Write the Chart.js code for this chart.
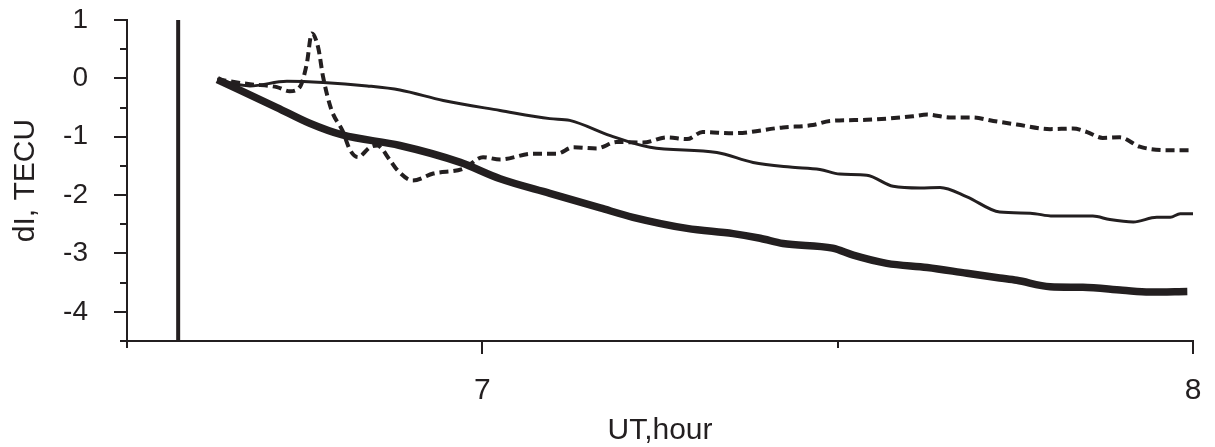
<!DOCTYPE html>
<html>
<head>
<meta charset="utf-8">
<title>dI, TECU</title>
<script src="https://cdn.jsdelivr.net/npm/chart.js@4.4.1/dist/chart.umd.min.js"></script>
<style>
  body { margin: 0; background: #fff; }
  #box { width: 1215px; height: 447px; }
</style>
</head>
<body>
<div id="box"><canvas id="myChart"></canvas></div>
<script>
'use strict'

// UT hours and dI values
const thickHours = [6.627, 6.711, 6.757, 6.803, 6.884, 6.969, 7.025, 7.095, 7.166, 7.212, 7.288, 7.353, 7.391, 7.423, 7.493, 7.522, 7.569, 7.626, 7.682, 7.728, 7.752, 7.799, 7.845, 7.901, 7.939, 7.992];
const thickValues = [-0.02, -0.50, -0.77, -0.97, -1.15, -1.44, -1.72, -1.97, -2.22, -2.38, -2.57, -2.66, -2.74, -2.83, -2.91, -3.03, -3.17, -3.24, -3.34, -3.42, -3.46, -3.57, -3.58, -3.63, -3.66, -3.65];

const thinHours = [6.627, 6.673, 6.725, 6.776, 6.838, 6.884, 6.945, 7.025, 7.095, 7.123, 7.180, 7.236, 7.330, 7.381, 7.433, 7.475, 7.503, 7.541, 7.578, 7.616, 7.644, 7.682, 7.728, 7.771, 7.803, 7.859, 7.883, 7.916, 7.949, 7.968, 7.982, 8.0];
const thinValues = [-0.02, -0.13, -0.05, -0.07, -0.13, -0.20, -0.38, -0.55, -0.69, -0.72, -0.98, -1.18, -1.27, -1.44, -1.52, -1.56, -1.64, -1.66, -1.85, -1.88, -1.87, -2.03, -2.29, -2.31, -2.36, -2.36, -2.42, -2.46, -2.38, -2.38, -2.32, -2.32];

const dashHours = [6.627, 6.673, 6.711, 6.729, 6.743, 6.753, 6.760, 6.769, 6.776, 6.788, 6.803, 6.814, 6.825, 6.842, 6.852, 6.870, 6.881, 6.902, 6.931, 6.973, 7.001, 7.025, 7.071, 7.105, 7.128, 7.161, 7.189, 7.226, 7.260, 7.288, 7.310, 7.353, 7.423, 7.465, 7.489, 7.541, 7.606, 7.626, 7.658, 7.690, 7.719, 7.752, 7.799, 7.831, 7.851, 7.873, 7.897, 7.925, 7.963, 8.0];
const dashValues = [-0.02, -0.10, -0.15, -0.22, -0.15, 0.25, 0.77, 0.53, 0.02, -0.55, -0.89, -1.23, -1.35, -1.18, -1.15, -1.40, -1.58, -1.75, -1.63, -1.55, -1.35, -1.39, -1.29, -1.29, -1.18, -1.20, -1.09, -1.10, -1.01, -1.04, -0.92, -0.94, -0.84, -0.80, -0.73, -0.71, -0.65, -0.62, -0.67, -0.67, -0.73, -0.79, -0.87, -0.86, -0.92, -1.02, -1.01, -1.17, -1.23, -1.23];

// vertical marker line
const markerHour = 6.572;

const xMin = 6.5, xMax = 8, xStep = 0.5;
const yMin = -4.5, yMax = 1, yStep = 0.5;

const ink = '#231f20';
const fontName = "'Liberation Sans', Arial, sans-serif";

function toPoints(hours, values) {
    let pts = [];
    for (let i = 0; i < hours.length; i++) {
        pts.push({ x: hours[i], y: values[i] });
    }
    return pts;
}

function isWhole(v) {
    return Math.abs(v - Math.round(v)) < 1e-6;
}

// short ticks on half steps, long ticks on whole numbers
const tickMarks = {
    id: 'tickMarks',
    afterDraw(chart) {
        const ctx = chart.ctx;
        const xs = chart.scales.x;
        const ys = chart.scales.y;
        ctx.save();
        ctx.strokeStyle = ink;
        ctx.lineWidth = 2;
        ctx.beginPath();
        for (let t of xs.ticks) {
            const px = Math.round(xs.getPixelForValue(t.value));
            ctx.moveTo(px, xs.top);
            ctx.lineTo(px, xs.top + (isWhole(t.value) ? 13 : 7));
        }
        for (let t of ys.ticks) {
            const py = Math.round(ys.getPixelForValue(t.value));
            ctx.moveTo(ys.right, py);
            ctx.lineTo(ys.right - (isWhole(t.value) ? 13 : 7), py);
        }
        ctx.stroke();
        ctx.restore();
    }
};

const ctx = document.getElementById('myChart').getContext('2d');

const myChart = new Chart(ctx, {
    type: 'line',
    data: {
        datasets: [
            {
                label: 'marker',
                data: [{ x: markerHour, y: yMin }, { x: markerHour, y: yMax }],
                borderColor: ink,
                borderWidth: 4,
                pointRadius: 0
            },
            {
                label: 'dashed',
                data: toPoints(dashHours, dashValues),
                borderColor: ink,
                borderWidth: 4,
                borderDash: [9, 5],
                pointRadius: 0,
                cubicInterpolationMode: 'monotone'
            },
            {
                label: 'thin',
                data: toPoints(thinHours, thinValues),
                borderColor: ink,
                borderWidth: 3,
                borderJoinStyle: 'round',
                pointRadius: 0,
                cubicInterpolationMode: 'monotone'
            },
            {
                label: 'thick',
                data: toPoints(thickHours, thickValues),
                borderColor: ink,
                borderWidth: 7.5,
                borderJoinStyle: 'round',
                pointRadius: 0,
                cubicInterpolationMode: 'monotone'
            }
        ]
    },
    options: {
        responsive: true,
        maintainAspectRatio: false,
        animation: false,
        layout: { padding: { left: 0, top: 20, right: 22, bottom: 0 } },
        plugins: {
            legend: { display: false },
            tooltip: { enabled: false }
        },
        scales: {
            x: {
                type: 'linear',
                min: xMin,
                max: xMax,
                afterFit(scale) {
                    scale.height = 106;
                    scale.paddingLeft = 0;
                    scale.paddingRight = 0;
                },
                grid: { display: false },
                border: { display: true, color: ink, width: 2 },
                ticks: {
                    stepSize: xStep,
                    autoSkip: false,
                    maxRotation: 0,
                    padding: 24,
                    color: ink,
                    font: { family: fontName, size: 30 },
                    callback: (v) => isWhole(v) ? String(Math.round(v)) : ''
                },
                title: {
                    display: true,
                    text: 'UT,hour',
                    color: ink,
                    font: { family: fontName, size: 30, lineHeight: 1 },
                    padding: { top: 0, bottom: 1 }
                }
            },
            y: {
                min: yMin,
                max: yMax,
                afterFit(scale) {
                    scale.width = 127;
                    scale.paddingTop = 0;
                    scale.paddingBottom = 0;
                },
                grid: { display: false },
                border: { display: true, color: ink, width: 2 },
                ticks: {
                    stepSize: yStep,
                    autoSkip: false,
                    padding: 31,
                    color: ink,
                    font: { family: fontName, size: 28 },
                    callback: (v) => isWhole(v) ? String(Math.round(v)) : ''
                },
                title: {
                    display: true,
                    text: 'dI, TECU',
                    color: ink,
                    font: { family: fontName, size: 30, lineHeight: 1 },
                    padding: { top: 11, bottom: 0 }
                }
            }
        }
    },
    plugins: [tickMarks]
});
</script>
</body>
</html>
